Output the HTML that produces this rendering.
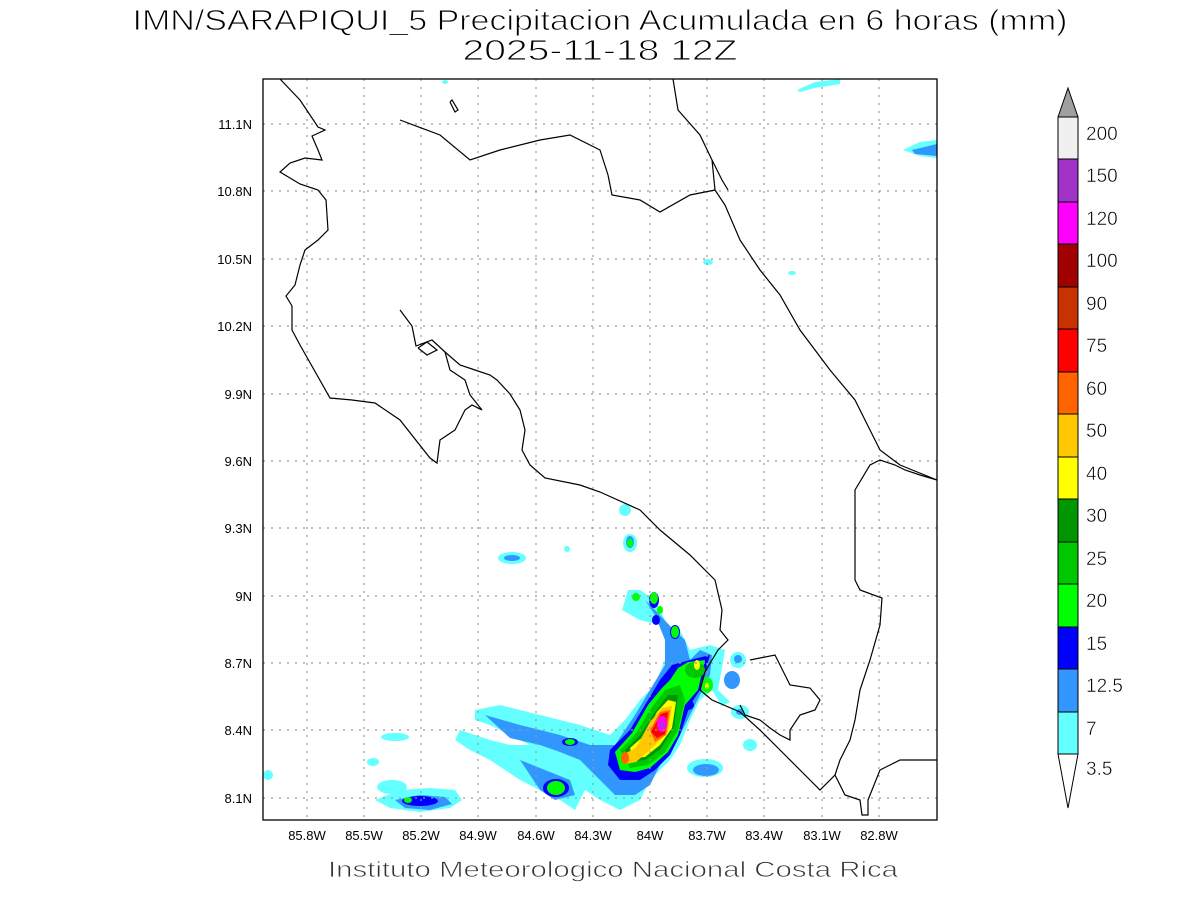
<!DOCTYPE html>
<html><head><meta charset="utf-8"><style>
body{margin:0;background:#fff;width:1200px;height:900px;overflow:hidden}
svg{font-family:"Liberation Sans",sans-serif}
</style></head><body>
<svg width="1200" height="900" viewBox="0 0 1200 900" xmlns="http://www.w3.org/2000/svg">
<rect width="1200" height="900" fill="#fff"/>
<text x="600" y="30" font-size="29" text-anchor="middle" fill="#000" stroke="#fff" stroke-width="0.9" textLength="935" lengthAdjust="spacingAndGlyphs">IMN/SARAPIQUI_5 Precipitacion Acumulada en 6 horas (mm)</text>
<text x="600" y="60" font-size="29" text-anchor="middle" fill="#000" stroke="#fff" stroke-width="0.9" textLength="275" lengthAdjust="spacingAndGlyphs">2025-11-18 12Z</text>

<!-- precipitation -->
<g stroke="none">
<g fill="#64ffff">
<path d="M475,710 L500,705 L540,715 L580,725 L610,735 L625,720 L640,700 L655,685 L665,660 L670,640 L665,620 L655,600 L640,590 L628,590 L622,610 L640,620 L660,625 L680,630 L690,650 L710,645 L725,650 L722,668 L718,690 L730,702 L722,706 L712,690 L700,700 L690,720 L680,745 L670,760 L650,780 L640,800 L620,810 L600,800 L585,790 L575,810 L560,800 L540,790 L520,780 L505,770 L490,760 L470,750 L455,740 L460,730 L490,740 L510,745 L530,745 L510,735 L490,725 L475,720Z"/>
<ellipse cx="395" cy="737" rx="14" ry="4"/><ellipse cx="373" cy="762" rx="6" ry="4"/><ellipse cx="392" cy="787" rx="15" ry="7"/>
<path d="M375,800 L400,790 L430,788 L455,790 L462,800 L450,808 L420,812 L390,808Z"/>
<ellipse cx="512" cy="558" rx="14" ry="6"/><ellipse cx="567" cy="549" rx="3" ry="3"/><ellipse cx="625" cy="510" rx="6" ry="6"/><ellipse cx="630" cy="543" rx="7" ry="9"/>
<ellipse cx="705" cy="768" rx="18" ry="9"/><ellipse cx="738" cy="660" rx="8" ry="8"/><ellipse cx="740" cy="712" rx="9" ry="7"/><ellipse cx="750" cy="745" rx="7" ry="6"/>
<ellipse cx="268" cy="775" rx="5" ry="5"/><ellipse cx="708" cy="262" rx="5" ry="3"/><ellipse cx="792" cy="273" rx="4" ry="2"/>
<path d="M797,90 L815,82 L840,79 L840,84 L815,88 L800,92Z"/>
<path d="M903,150 L920,142 L937,140 L937,158 L920,156Z"/>
<ellipse cx="445" cy="82" rx="3" ry="2"/>
</g>
<g fill="#3296ff">
<path d="M485,715 L520,725 L560,735 L590,745 L615,745 L635,715 L650,690 L665,665 L665,640 L655,615 L645,600 L655,610 L672,628 L685,640 L690,660 L700,650 L712,655 L710,675 L700,695 L690,715 L680,735 L670,750 L660,765 L650,785 L635,795 L615,795 L600,780 L580,760 L560,752 L540,745 L510,738Z"/>
<path d="M520,760 L545,770 L570,780 L575,795 L555,800 L540,790Z"/>
<ellipse cx="512" cy="558" rx="8" ry="3"/><ellipse cx="630" cy="542" rx="4" ry="6"/><ellipse cx="706" cy="770" rx="13" ry="6"/>
<ellipse cx="732" cy="680" rx="8" ry="9"/><ellipse cx="740" cy="712" rx="4" ry="3"/><ellipse cx="738" cy="659" rx="4" ry="4"/>
<path d="M395,800 L420,795 L445,797 L452,804 L430,810 L405,808Z"/>
<path d="M912,150 L937,144 L937,156 L915,154Z"/>
</g>
<g fill="#0000ff">
<path d="M610,750 L630,730 L648,700 L660,680 L672,665 L690,660 L710,655 L700,690 L690,705 L680,735 L670,755 L655,770 L640,780 L620,780 L608,765Z"/>
<ellipse cx="570" cy="742" rx="8" ry="4"/><ellipse cx="556" cy="788" rx="13" ry="9"/><ellipse cx="420" cy="801" rx="18" ry="5"/>
<ellipse cx="654" cy="600" rx="5" ry="8"/><ellipse cx="656" cy="620" rx="4" ry="5"/><ellipse cx="688" cy="705" rx="6" ry="5"/><ellipse cx="675" cy="632" rx="5" ry="7"/>
</g>
<g fill="#00ff00">
<path d="M615,752 L632,733 L648,705 L662,688 L670,680 L678,668 L688,662 L705,660 L698,690 L685,705 L678,735 L668,752 L650,768 L635,772 L620,770Z"/>
<ellipse cx="570" cy="742" rx="5" ry="3"/><ellipse cx="556" cy="788" rx="9" ry="7"/><ellipse cx="408" cy="800" rx="4" ry="3"/>
<ellipse cx="636" cy="597" rx="4" ry="4"/><ellipse cx="654" cy="598" rx="4" ry="6"/><ellipse cx="660" cy="610" rx="3" ry="4"/><ellipse cx="675" cy="632" rx="4" ry="6"/><ellipse cx="630" cy="543" rx="3" ry="4"/>
<ellipse cx="707" cy="685" rx="6" ry="8"/>
</g>
<g fill="#00c800">
<path d="M620,750 L635,735 L650,710 L665,690 L680,685 L685,700 L678,730 L665,752 L648,765 L630,768Z"/>
<ellipse cx="695" cy="670" rx="10" ry="8"/>
</g>
<g fill="#009600"><path d="M625,750 L640,735 L655,712 L668,695 L678,695 L674,728 L660,750 L645,760 L630,762Z"/></g>
<g fill="#ffff00">
<path d="M630,748 L645,735 L657,712 L668,700 L676,702 L672,728 L660,745 L645,757 L632,758Z"/>
<ellipse cx="697" cy="665" rx="3" ry="5"/><ellipse cx="707" cy="686" rx="2" ry="3"/>
</g>
<g fill="#ffc800"><path d="M622,755 L636,748 L650,722 L662,708 L672,706 L668,732 L652,748 L636,762 L626,764Z"/></g>
<g fill="#ff6400"><path d="M650,730 L660,712 L670,710 L666,735 L655,742Z"/><ellipse cx="625" cy="758" rx="4" ry="6"/></g>
<g fill="#ff0000"><path d="M651,732 L661,714 L668,712 L665,734 L657,738Z"/></g>
<g fill="#c83200"><path d="M654,730 L662,717 L667,716 L664,732Z"/></g>
<g fill="#ff00ff"><ellipse cx="662" cy="724" rx="5" ry="8"/></g>
<g fill="#a040c0"><ellipse cx="662" cy="725" rx="2" ry="3"/></g>
</g>

<!-- grid -->
<g stroke="#999" stroke-width="1.2" stroke-dasharray="2,6">
<line x1="307" y1="79" x2="307" y2="820"/><line x1="364" y1="79" x2="364" y2="820"/><line x1="421" y1="79" x2="421" y2="820"/><line x1="478" y1="79" x2="478" y2="820"/><line x1="536" y1="79" x2="536" y2="820"/><line x1="593" y1="79" x2="593" y2="820"/><line x1="650" y1="79" x2="650" y2="820"/><line x1="707" y1="79" x2="707" y2="820"/><line x1="764" y1="79" x2="764" y2="820"/><line x1="822" y1="79" x2="822" y2="820"/><line x1="879" y1="79" x2="879" y2="820"/>
<line x1="263" y1="124" x2="937" y2="124"/><line x1="263" y1="191" x2="937" y2="191"/><line x1="263" y1="259" x2="937" y2="259"/><line x1="263" y1="326" x2="937" y2="326"/><line x1="263" y1="394" x2="937" y2="394"/><line x1="263" y1="461" x2="937" y2="461"/><line x1="263" y1="528" x2="937" y2="528"/><line x1="263" y1="596" x2="937" y2="596"/><line x1="263" y1="663" x2="937" y2="663"/><line x1="263" y1="730" x2="937" y2="730"/><line x1="263" y1="798" x2="937" y2="798"/>
</g>

<!-- coastlines -->
<g fill="none" stroke="#000" stroke-width="1.2">
<polyline points="280,79 300,100 318,127 325,130 312,136 318,150 322,160 305,158 290,163 280,172 300,184 318,190 326,200 328,230 318,240 305,250 300,265 295,285 286,296 292,306 292,330 300,345 330,398 352,400 375,403 400,420 430,458 437,463 440,440 455,430 465,410 472,405 482,410 470,395 465,380 450,370 445,352 432,340 416,346 412,326 400,310"/>
<polyline points="418,348 427,342 437,350 427,355 418,348"/>
<polyline points="445,352 460,365 475,370 490,375 497,380 510,394 520,410 525,430 522,450 530,465 545,478 580,485 600,492 640,510 660,530 690,555 715,580 722,610 720,630 728,640 718,650 712,660 705,672 700,690 712,700 740,712 760,730 780,750 800,770 820,790 835,775 840,760 850,740 855,720 860,690 870,660 880,625 882,598 860,590 855,580 855,490 870,465 880,460 895,465 905,470 920,475 937,480"/>
<polyline points="750,660 775,655 790,685 810,688 820,700 815,710 800,715 790,730 790,740 780,735 770,728 760,720 745,715 740,705"/>
<polyline points="835,775 845,795 860,800 862,815 868,815 868,800 880,770 900,760 937,760"/>
<polyline points="673,79 678,110 700,135 712,160 715,190 725,205 740,240 760,270 780,295 800,330 830,370 855,400 870,430 880,450 900,465 937,480"/>
<polyline points="712,160 722,180 728,190"/>
<polyline points="400,120 440,135 470,160 500,150 540,140 570,135 600,150 608,175 612,195 640,200 660,212 690,195 715,190"/>
<polyline points="450,102 455,112 458,110 452,100 450,102"/>
</g>
<rect x="263" y="79" width="674" height="741" fill="none" stroke="#000" stroke-width="1.3"/>

<!-- tick labels -->
<g font-size="13" fill="#000" text-anchor="middle">
<text x="307" y="840">85.8W</text><text x="364" y="840">85.5W</text><text x="421" y="840">85.2W</text><text x="478" y="840">84.9W</text><text x="536" y="840">84.6W</text><text x="593" y="840">84.3W</text><text x="650" y="840">84W</text><text x="707" y="840">83.7W</text><text x="764" y="840">83.4W</text><text x="822" y="840">83.1W</text><text x="879" y="840">82.8W</text>
</g>
<g font-size="13" fill="#000" text-anchor="end">
<text x="252" y="129">11.1N</text><text x="252" y="196">10.8N</text><text x="252" y="264">10.5N</text><text x="252" y="331">10.2N</text><text x="252" y="399">9.9N</text><text x="252" y="466">9.6N</text><text x="252" y="533">9.3N</text><text x="252" y="601">9N</text><text x="252" y="668">8.7N</text><text x="252" y="735">8.4N</text><text x="252" y="803">8.1N</text>
</g>
<text x="613" y="877" font-size="22" text-anchor="middle" fill="#333" stroke="#fff" stroke-width="0.7" textLength="570" lengthAdjust="spacingAndGlyphs">Instituto Meteorologico Nacional Costa Rica</text>

<!-- colorbar -->
<g stroke="#000" stroke-width="1">
<polygon points="1058,117 1068,88 1078,117" fill="#a0a0a0"/>
<rect x="1058" y="117" width="20" height="42" fill="#f0f0f0"/>
<rect x="1058" y="159" width="20" height="43" fill="#a032c8"/>
<rect x="1058" y="202" width="20" height="42" fill="#ff00ff"/>
<rect x="1058" y="244" width="20" height="43" fill="#a00000"/>
<rect x="1058" y="287" width="20" height="42" fill="#c83200"/>
<rect x="1058" y="329" width="20" height="43" fill="#ff0000"/>
<rect x="1058" y="372" width="20" height="42" fill="#ff6400"/>
<rect x="1058" y="414" width="20" height="43" fill="#ffc800"/>
<rect x="1058" y="457" width="20" height="42" fill="#ffff00"/>
<rect x="1058" y="499" width="20" height="43" fill="#009600"/>
<rect x="1058" y="542" width="20" height="42" fill="#00c800"/>
<rect x="1058" y="584" width="20" height="43" fill="#00ff00"/>
<rect x="1058" y="627" width="20" height="42" fill="#0000ff"/>
<rect x="1058" y="669" width="20" height="43" fill="#3296ff"/>
<rect x="1058" y="712" width="20" height="42" fill="#64ffff"/>
<polygon points="1058,754 1068,808 1078,754" fill="#fff"/>
</g>
<g font-size="19" fill="#000" stroke="#fff" stroke-width="0.5">
<text x="1086" y="140">200</text><text x="1086" y="182">150</text><text x="1086" y="225">120</text><text x="1086" y="267">100</text><text x="1086" y="310">90</text><text x="1086" y="352">75</text><text x="1086" y="395">60</text><text x="1086" y="437">50</text><text x="1086" y="480">40</text><text x="1086" y="522">30</text><text x="1086" y="565">25</text><text x="1086" y="607">20</text><text x="1086" y="650">15</text><text x="1086" y="692">12.5</text><text x="1086" y="735">7</text><text x="1086" y="775">3.5</text>
</g>
</svg>
</body></html>
